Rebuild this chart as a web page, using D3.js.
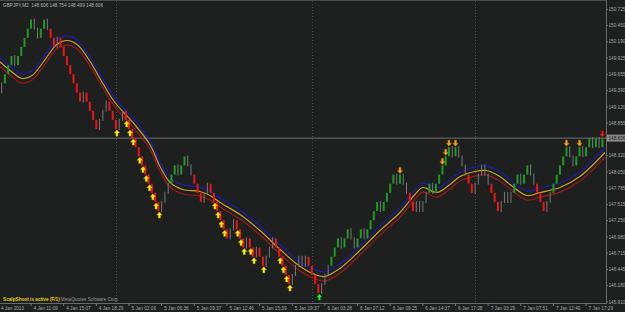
<!DOCTYPE html>
<html><head><meta charset="utf-8">
<script src="https://cdn.jsdelivr.net/npm/d3@7"></script>
<style>html,body{margin:0;padding:0;background:#1d201f;overflow:hidden}svg{display:block}</style>
</head><body><svg id="c" width="625" height="312"></svg>
<script>
// ---------------- data ----------------
const symbolName = "GBPJPY,M2";
const headerValues = ["148.606", "148.754", "148.499", "148.606"];
const statusText = "ScalpShoot is active (F/1)";
const copyrightText = "MetaQuotes Software Corp.";
const boxSize = 0.15;
const firstOpen = 149.206;
const currentPrice = 148.606;
// one char per bar: G green up, R red down, u grey up, d grey down
const barMoves = [
  "u", "uGGGdGGGGGddGGd", "RRuRRRRRRR", "uRRRR", "uuu", "RRR", "uu", "RRRRRRRRRRR",
  "uuu", "GG", "d", "GG", "dd", "RRR", "uu", "RRRRRR", "uu", "RRR", "u", "RR", "u", "RR",
  "uuu", "RRRRR", "uuu", "d", "u", "RRRR", "uuu", "GGG", "d", "GG", "dd", "GG", "d",
  "GGGG", "d", "GGGG", "d", "G", "dd", "RR", "u", "d", "uu", "G", "d", "GGGGG", "d", "G",
  "ddd", "RR", "uuu", "dd", "RRR", "uu", "d", "u", "GG", "d", "GG", "dd", "RRR", "uu",
  "GGGGG", "dd", "GG", "d", "GG", "d", "G", "d", "G"
].join("");
const timeLabels = ["4 Jan 2010", "4 Jan 11:09", "4 Jan 15:07", "4 Jan 18:29", "5 Jan 02:06",
  "5 Jan 06:36", "5 Jan 09:37", "5 Jan 12:46", "5 Jan 15:39", "5 Jan 19:37", "6 Jan 03:28",
  "6 Jan 07:12", "6 Jan 09:25", "6 Jan 14:37", "6 Jan 17:28", "7 Jan 03:29", "7 Jan 07:51",
  "7 Jan 12:40", "7 Jan 17:29"];
const timeLabelStep = 10;
const priceLabels = ["150.725", "150.460", "150.190", "149.925", "149.655", "149.390", "149.120",
  "148.855", "148.585", "148.320", "148.050", "147.785", "147.515", "147.250", "146.980",
  "146.715", "146.445", "146.180", "145.910"];
const daySeparatorBars = [36, 96, 146];
const maBars = [0, 3.6, 7.2, 10.3, 14.3, 17.9, 21, 24.1, 28.1, 31.1, 35.7, 41.2, 46.4, 49.5, 52.6,
  56.5, 61.7, 64.8, 67.9, 74, 80.1, 86.3, 92.4, 97, 100, 104.6, 110.7, 116.9, 123, 127.6, 130,
  134.3, 138.3, 141.4, 145.9, 149.6, 153.6, 156.7, 161.9, 165.9, 172, 178.1, 185.8];
const maMid = [149.883, 149.718, 149.587, 149.636, 149.899, 150.146, 150.212, 150.146, 149.866,
  149.587, 149.192, 148.863, 148.501, 148.139, 147.876, 147.761, 147.728, 147.662, 147.547,
  147.349, 147.086, 146.773, 146.494, 146.362, 146.329, 146.461, 146.757, 147.086, 147.382,
  147.678, 147.793, 147.711, 147.843, 147.974, 148.057, 148.073, 147.974, 147.843, 147.662,
  147.711, 147.793, 147.974, 148.369];
const envelopeWidth = 0.075;
const yellowUpArrows = [36, 39, 40, 41, 43, 44, 45, 46, 47, 48, 49, 66, 67, 68, 69, 73, 74, 75, 77, 78, 81, 86, 87, 88, 89];
const greenUpArrows = [98];
const orangeDownArrows = [123, 136, 137, 138, 140, 174, 178];
const redDownArrows = [185];

// ---------------- drawing ----------------
const svg = d3.select("#c");
const plotR = 606, plotB = 303;
const FONT = "'Liberation Sans', Arial, sans-serif";
const x = d3.scaleLinear().domain([0, 185]).range([-1.6, 602.4]);
const y = d3.scaleLinear().domain([145.910, 150.725]).range([302.0, 9.3]);

svg.append("rect").attr("width", 625).attr("height", 312).attr("fill", "#1d201f");
svg.append("defs").append("clipPath").attr("id", "pc")
  .append("rect").attr("x", 0).attr("y", 0).attr("width", plotR).attr("height", plotB);
const plot = svg.append("g").attr("clip-path", "url(#pc)");

// day separators
plot.selectAll("line.sep").data(daySeparatorBars).join("line")
  .attr("x1", d => Math.round(x(d)) + 0.5).attr("x2", d => Math.round(x(d)) + 0.5)
  .attr("y1", 1).attr("y2", plotB)
  .attr("stroke", "#4c4c4c").attr("stroke-width", 1).attr("stroke-dasharray", "1,2");

// current price line
plot.append("line").attr("x1", 0).attr("x2", plotR)
  .attr("y1", y(currentPrice)).attr("y2", y(currentPrice))
  .attr("stroke", "#6f6f6f").attr("stroke-width", 1);

// envelope lines
const ma = maBars.map((b, i) => ({b, v: maMid[i]}));
const lineGen = off => d3.line().x(d => x(d.b)).y(d => y(d.v + off)).curve(d3.curveCatmullRom.alpha(0.5));
[[envelopeWidth, "#1c1cb0"], [0, "#c9a227"], [-envelopeWidth, "#a31818"]].forEach(([off, col]) => {
  plot.append("path").datum(ma).attr("d", lineGen(off)).attr("fill", "none")
    .attr("stroke", col).attr("stroke-width", 1.2);
});

// bars
let lvl = firstOpen;
const bars = barMoves.split("").map((m, i) => {
  const up = (m === "G" || m === "u");
  const o = lvl, c = o + (up ? boxSize : -boxSize);
  lvl = c;
  return {i, o, c, m, hi: Math.max(o, c), lo: Math.min(o, c)};
});
const colorOf = {G: "#1f9a24", R: "#f01414", u: "#777777", d: "#777777"};
plot.selectAll("rect.bar").data(bars).join("rect")
  .attr("x", d => (d.m === "G" || d.m === "R") ? x(d.i) - 1 : x(d.i) - 0.5)
  .attr("width", d => (d.m === "G" || d.m === "R") ? 2 : 1)
  .attr("y", d => (d.m === "G" || d.m === "R") ? y(d.hi) : y(d.hi) - 1)
  .attr("height", d => (d.m === "G" || d.m === "R") ? y(d.lo) - y(d.hi) : y(d.lo) - y(d.hi) + 2)
  .attr("fill", d => colorOf[d.m]);

// arrows
function upArrow(cx, ty) {
  return `M${cx},${ty} L${cx + 2.6},${ty + 3} L${cx + 1},${ty + 3} L${cx + 1},${ty + 6} L${cx - 1},${ty + 6} L${cx - 1},${ty + 3} L${cx - 2.6},${ty + 3} Z`;
}
function downArrow(cx, by) {
  return `M${cx},${by} L${cx + 2.6},${by - 3} L${cx + 1},${by - 3} L${cx + 1},${by - 6} L${cx - 1},${by - 6} L${cx - 1},${by - 3} L${cx - 2.6},${by - 3} Z`;
}
function drawUp(list, fill, stroke) {
  plot.selectAll(null).data(list).join("path")
    .attr("d", b => upArrow(x(b) + 1, y(bars[b].lo) + 1))
    .attr("fill", fill).attr("stroke", stroke).attr("stroke-width", 0.5);
}
function drawDown(list, fill, stroke) {
  plot.selectAll(null).data(list).join("path")
    .attr("d", b => downArrow(x(b), y(bars[b].hi) - 1))
    .attr("fill", fill).attr("stroke", stroke).attr("stroke-width", 0.5);
}
drawUp(yellowUpArrows, "#fff01e", "#d9b000");
drawUp(greenUpArrows, "#22ff22", "#10a010");
drawDown(orangeDownArrows, "#f5a623", "#c07010");
drawDown(redDownArrows, "#ff1a1a", "#b00000");

// frame / axes
svg.append("line").attr("x1", 0).attr("x2", plotR).attr("y1", 0.5).attr("y2", 0.5).attr("stroke", "#4a4a4a");
svg.append("line").attr("x1", plotR + 0.5).attr("x2", plotR + 0.5).attr("y1", 0).attr("y2", plotB + 1).attr("stroke", "#6a6a6a");
svg.append("line").attr("x1", 0).attr("x2", plotR + 1).attr("y1", plotB + 0.5).attr("y2", plotB + 0.5).attr("stroke", "#6a6a6a");

// price axis
const pAxis = svg.append("g");
priceLabels.forEach(s => {
  const v = +s, yy = y(v);
  pAxis.append("line").attr("x1", plotR).attr("x2", plotR + 2).attr("y1", yy).attr("y2", yy).attr("stroke", "#777");
  pAxis.append("text").attr("x", plotR + 2.5).attr("y", yy).attr("dy", "0.35em")
    .attr("font-family", FONT).attr("font-size", 4.7).attr("fill", "#a6a6a6").text(s);
});
// current price box
const cy = y(currentPrice);
svg.append("rect").attr("x", plotR + 1).attr("y", cy - 3.5).attr("width", 19).attr("height", 7).attr("fill", "#8a8a8a");
svg.append("text").attr("x", plotR + 2.5).attr("y", cy).attr("dy", "0.35em")
  .attr("font-family", FONT).attr("font-size", 4.7).attr("fill", "#1a1a1a").text(currentPrice.toFixed(3));

// time axis
timeLabels.forEach((s, k) => {
  const xx = x(k * timeLabelStep);
  svg.append("line").attr("x1", xx).attr("x2", xx).attr("y1", plotB).attr("y2", plotB + 3).attr("stroke", "#777");
  svg.append("text").attr("x", xx + 2.5).attr("y", 310)
    .attr("font-family", FONT).attr("font-size", 4.7).attr("fill", "#a6a6a6").text(s);
});

// header
svg.append("text").attr("x", 3).attr("y", 7).attr("font-family", FONT).attr("font-size", 4.7)
  .attr("fill", "#b4b4b4").attr("xml:space", "preserve")
  .text(symbolName + "  " + headerValues.join(" "));

// status line
const st = svg.append("text").attr("x", 3).attr("y", 300.5).attr("font-family", FONT).attr("font-size", 4.7);
st.append("tspan").attr("fill", "#e6d21e").attr("font-weight", "bold").text(statusText);
st.append("tspan").attr("fill", "#9a9a9a").attr("dx", 1).text(copyrightText);
</script>
</body></html>
